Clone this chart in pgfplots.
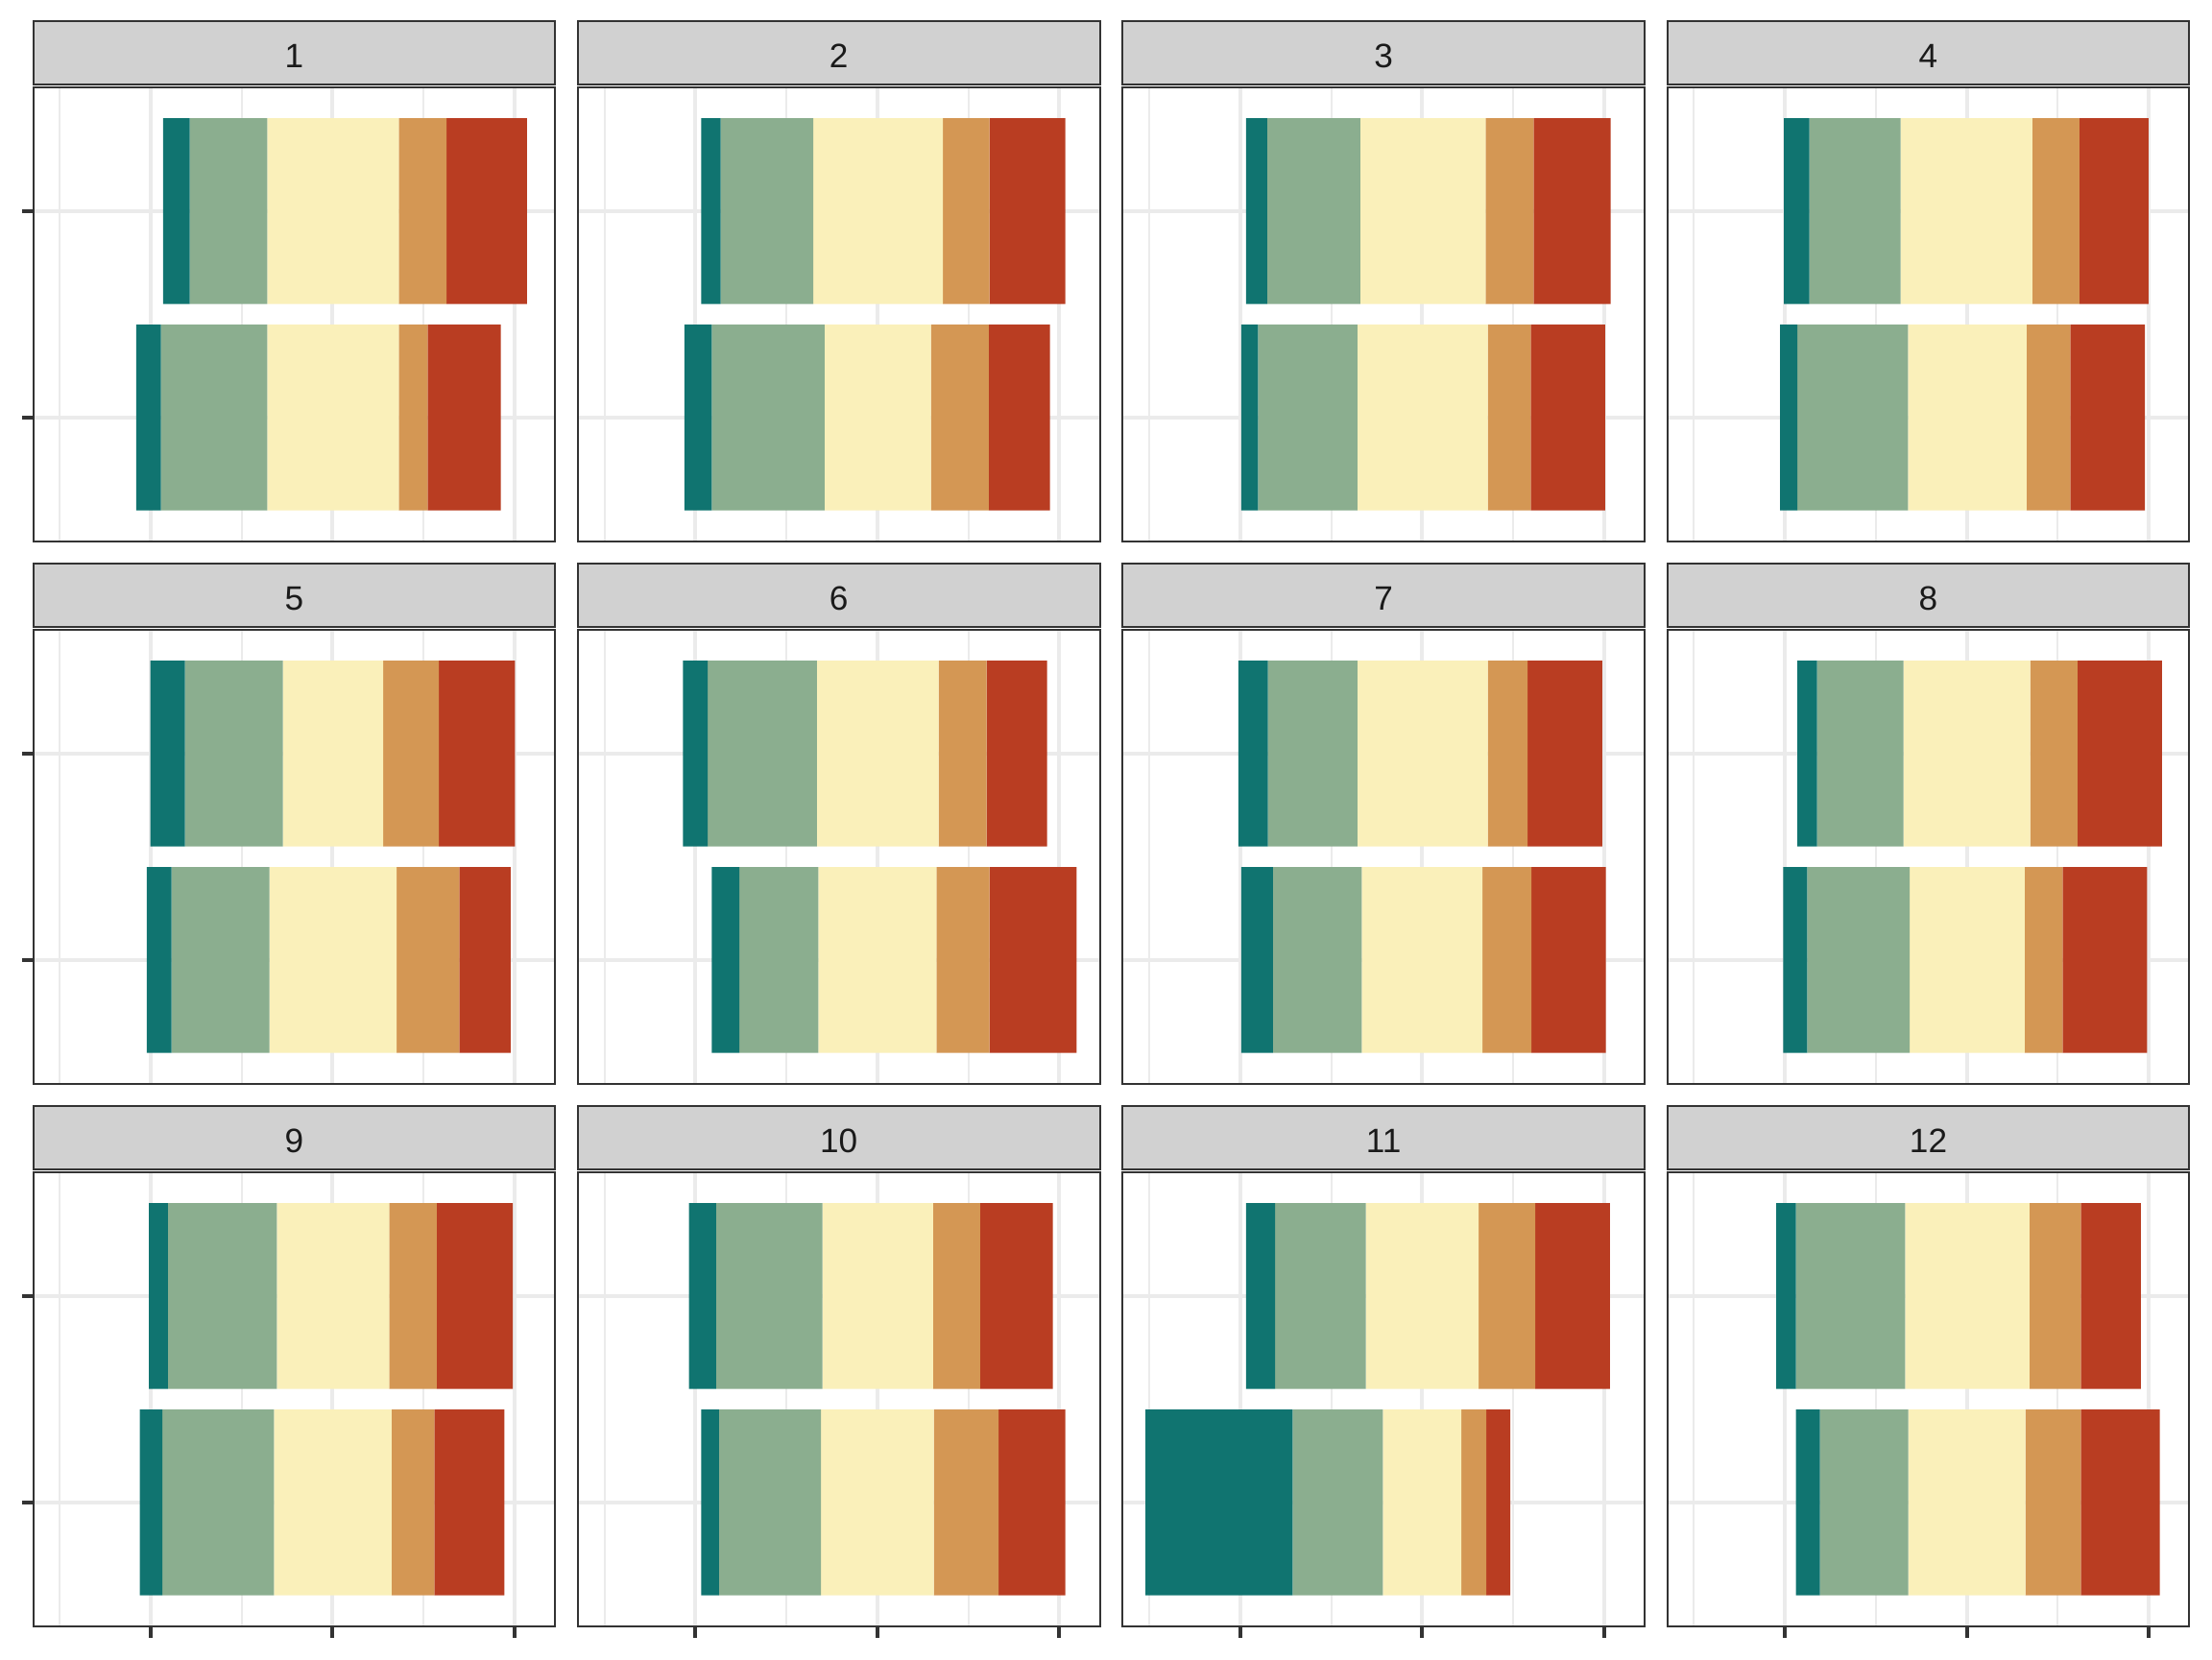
\documentclass[border=0pt]{standalone}
\usepackage{fontspec}
\setmainfont{Liberation Sans}
\usepackage{pgfplots}
\usepackage{pgfplotstable}
\pgfplotsset{compat=1.18}

\definecolor{cteal}{HTML}{107470}
\definecolor{csage}{HTML}{8BAE8F}
\definecolor{cyel}{HTML}{FAF0BA}
\definecolor{corange}{HTML}{D49754}
\definecolor{cred}{HTML}{B93D22}
\definecolor{stripgray}{HTML}{D1D1D1}
\definecolor{grey20}{HTML}{333333}
\definecolor{grey92}{HTML}{EBEBEB}
\definecolor{grey10}{HTML}{1A1A1A}

% y s(start) teal sage neutral orange red
\pgfplotstableread{
y s a b c d e
2 -46.6 7.3 21.3 36.2 13.1 22.1
1 -54.0 6.8 29.2 36.2 7.9 20.1
}\dA
\pgfplotstableread{
y s a b c d e
2 -48.4 5.3 25.5 35.6 12.8 20.8
1 -53.0 7.5 31.0 29.2 15.9 16.8
}\dB
\pgfplotstableread{
y s a b c d e
2 -48.4 5.8 25.6 34.4 13.2 21.2
1 -49.7 4.6 27.3 35.8 11.8 20.5
}\dC
\pgfplotstableread{
y s a b c d e
2 -50.3 7.0 25.1 36.2 12.9 19.0
1 -51.3 4.7 30.4 32.6 12.0 20.5
}\dD
\pgfplotstableread{
y s a b c d e
2 -50.1 9.5 26.9 27.6 15.3 20.9
1 -51.1 6.8 26.9 35.0 17.2 14.1
}\dE
\pgfplotstableread{
y s a b c d e
2 -53.4 6.8 30.0 33.4 13.2 16.6
1 -45.5 7.6 21.7 32.4 14.6 23.9
}\dF
\pgfplotstableread{
y s a b c d e
2 -50.5 8.1 24.6 35.8 11.0 20.5
1 -49.7 8.7 24.4 33.2 13.4 20.5
}\dG
\pgfplotstableread{
y s a b c d e
2 -46.6 5.4 23.8 34.8 13.0 23.2
1 -50.5 6.6 28.2 31.6 10.4 23.2
}\dH
\pgfplotstableread{
y s a b c d e
2 -50.5 5.2 30.0 30.8 13.1 20.9
1 -53.0 6.2 30.7 32.3 11.7 19.3
}\dI
\pgfplotstableread{
y s a b c d e
2 -51.8 7.5 29.2 30.4 12.9 20.0
1 -48.4 4.9 28.0 31.0 17.8 18.3
}\dJ
\pgfplotstableread{
y s a b c d e
2 -48.4 8.0 24.9 31.0 15.6 20.5
1 -76.0 40.4 24.8 21.6 6.8 6.6
}\dK
\pgfplotstableread{
y s a b c d e
2 -52.4 5.4 30.0 34.2 14.1 16.5
1 -47.0 6.6 24.3 32.2 15.2 21.7
}\dL

\pgfplotsset{
  panelstyle/.style={
    anchor=south west,
    scale only axis, width=135.9pt, height=118.3pt,
    xmin=-82.3, xmax=61.1, ymin=0.4, ymax=2.6,
    xbar stacked, stack negative=on previous, bar width=0.9,
    xtick={-50,0,50}, minor xtick={-75,-25,25},
    ytick={1,2},
    xticklabels={}, yticklabels={},
    grid=both,
    major grid style={line width=1pt, draw=grey92},
    minor grid style={line width=0.5pt, draw=grey92},
    axis line style={draw=grey20, line width=0.5pt},
    tick style={draw=grey20, line width=1pt},
    tick align=outside, tick pos=left,
    major tick length=2.9pt, minor tick length=0pt,
    clip=false,
  },
}
\tikzset{
  strip/.style={anchor=south, yshift=0.55pt, minimum width=135.9pt,
    minimum height=16.5pt, inner sep=0pt, fill=stripgray, draw=grey20,
    line width=0.5pt, font=\fontsize{8.8}{10}\selectfont, text=grey10,
    text height=8.1pt, text depth=0pt},
}

\newcommand{\panel}[5]{%
\begin{axis}[panelstyle, at={(#1,#2)}, #5]
\addplot[draw=none, fill=none] table[x=s,y=y]{#3};
\addplot[draw=none, fill=cteal] table[x=a,y=y]{#3};
\addplot[draw=none, fill=csage] table[x=b,y=y]{#3};
\addplot[draw=none, fill=cyel] table[x=c,y=y]{#3};
\addplot[draw=none, fill=corange] table[x=d,y=y]{#3};
\addplot[draw=none, fill=cred] table[x=e,y=y]{#3};
\node[strip] at (rel axis cs:0.5,1) {#4};
\end{axis}}

\begin{document}
\begin{tikzpicture}
\useasboundingbox (0,0) rectangle (576pt,432pt);
% row 1
\panel{8.625pt}{291.0pt}{\dA}{1}{xmajorticks=false}
\panel{150.475pt}{291.0pt}{\dB}{2}{xmajorticks=false, ymajorticks=false}
\panel{292.325pt}{291.0pt}{\dC}{3}{xmajorticks=false, ymajorticks=false}
\panel{434.175pt}{291.0pt}{\dD}{4}{xmajorticks=false, ymajorticks=false}
% row 2
\panel{8.625pt}{149.75pt}{\dE}{5}{xmajorticks=false}
\panel{150.475pt}{149.75pt}{\dF}{6}{xmajorticks=false, ymajorticks=false}
\panel{292.325pt}{149.75pt}{\dG}{7}{xmajorticks=false, ymajorticks=false}
\panel{434.175pt}{149.75pt}{\dH}{8}{xmajorticks=false, ymajorticks=false}
% row 3
\panel{8.625pt}{8.5pt}{\dI}{9}{}
\panel{150.475pt}{8.5pt}{\dJ}{10}{ymajorticks=false}
\panel{292.325pt}{8.5pt}{\dK}{11}{ymajorticks=false}
\panel{434.175pt}{8.5pt}{\dL}{12}{ymajorticks=false}
\end{tikzpicture}
\end{document}
